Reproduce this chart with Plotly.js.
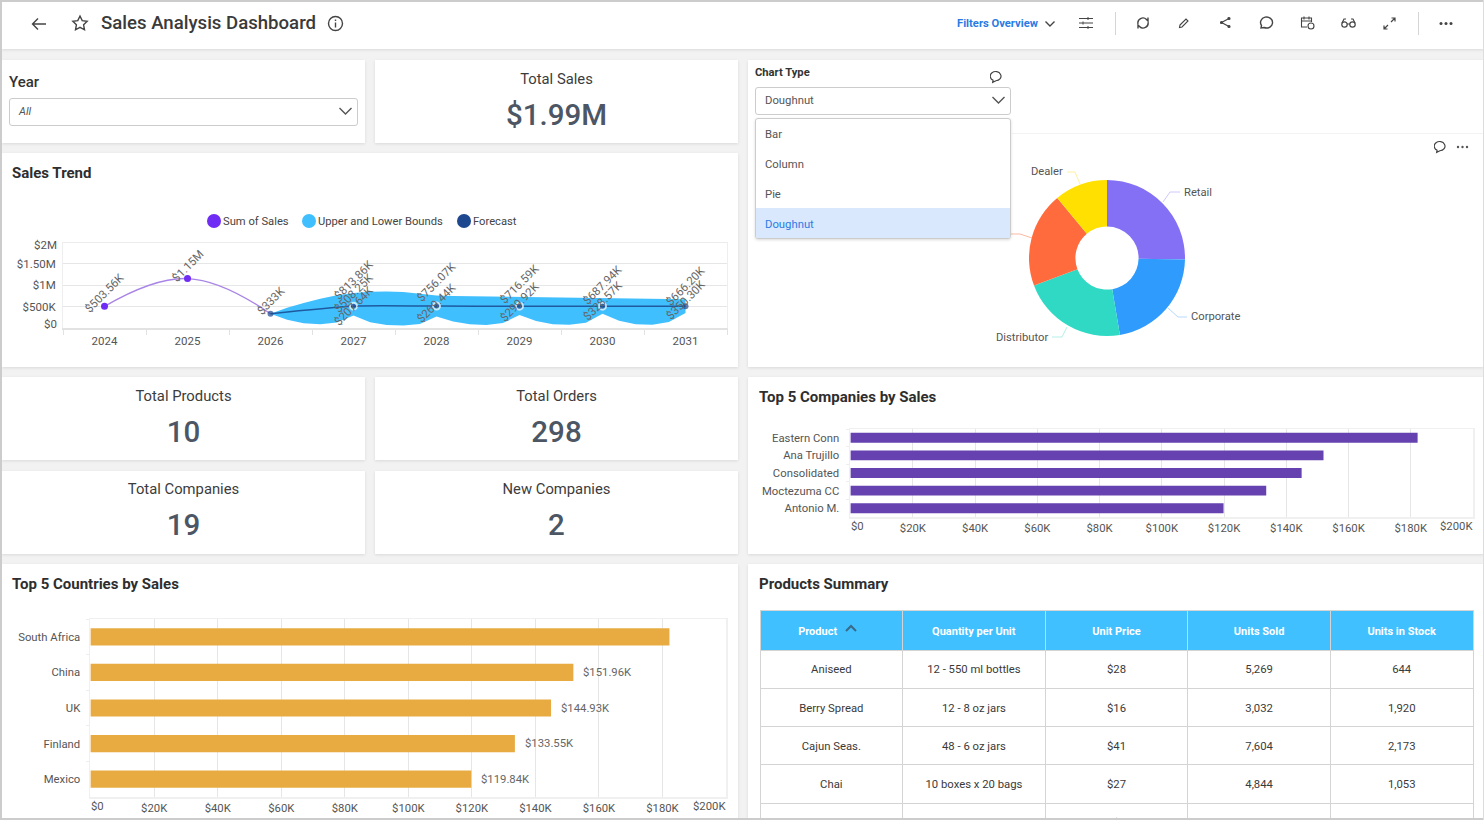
<!DOCTYPE html>
<html><head><meta charset="utf-8">
<script src="https://cdn.plot.ly/plotly-3.0.1.min.js"></script>
<style>
html,body{margin:0;padding:0;width:1484px;height:820px;overflow:hidden;background:#f2f2f2;font-family:Roboto,sans-serif;color:#333}
.p{position:absolute;background:#fff;box-shadow:0 1px 3px rgba(0,0,0,.10)}
.t{position:absolute;white-space:nowrap;line-height:1}
.ttl{font-size:15px;font-weight:700;color:#2e2e2e}
.kt{position:absolute;left:0;right:0;text-align:center;font-size:14.800px;color:#3c3c3c;top:10px}
.kv{position:absolute;left:0;right:0;text-align:center;font-weight:500;color:#4c5664;font-size:29.500px;top:38px}
.ic{position:absolute;fill:none;stroke:#444;stroke-width:1.4}
.chart{position:absolute}
.dd{position:absolute;border:1px solid #ccc;border-radius:3px;background:#fff;box-sizing:border-box}
.it{position:absolute;left:9px;font-size:11.300px;color:#555}
.lg{position:absolute;top:214px;width:14px;height:14px;border-radius:50%}
</style></head><body>
<div style="position:absolute;left:0;top:0;width:1484px;height:2px;background:#ccc;z-index:9"></div>
<div style="position:absolute;left:0;top:0;width:2px;height:820px;background:#ccc;z-index:9"></div>
<div style="position:absolute;left:0;top:818px;width:1484px;height:2px;background:#ccc;z-index:9"></div>
<div style="position:absolute;left:1483px;top:0;width:1px;height:820px;background:#ddd;z-index:9"></div>

<div class="p" style="left:2px;top:2px;width:1482px;height:47px"></div>
<svg class="ic" style="left:30px;top:15px" width="18" height="18" viewBox="0 0 18 18"><path d="M16 9H3M8 3.5 2.5 9 8 14.5"/></svg>
<svg class="ic" style="left:71px;top:14px" width="18" height="18" viewBox="0 0 18 18"><path d="M9 2l2.2 4.6 5 .7-3.6 3.5.9 5L9 13.4 4.500 15.800l.9-5L1.800 7.300l5-.7z"/></svg>
<div class="t" style="left:101px;top:14px;font-size:18.600px;font-weight:500;color:#3a3a3a">Sales Analysis Dashboard</div>
<svg class="ic" style="left:327px;top:15px" width="17" height="17" viewBox="0 0 17 17"><circle cx="8.500" cy="8.500" r="7"/><path d="M8.500 7.500v5M8.500 4.500v1.500"/></svg>
<div class="t" style="left:957px;top:18px;font-size:11.200px;font-weight:700;color:#2b7be4">Filters Overview</div>
<svg class="ic" style="left:1044px;top:19px" width="12" height="10" viewBox="0 0 12 10"><path d="M1.500 2.500 6 7l4.500-4.500"/></svg>
<svg class="ic" style="left:1078px;top:16px;stroke-width:1" width="16" height="14" viewBox="0 0 16 14"><path d="M1 2.500h14M1 7h14M1 11.500h14M10 1v3M5 5.500v3M10 10v3"/></svg>
<div style="position:absolute;left:1115px;top:12px;width:1px;height:23px;background:#d5d5d5"></div>
<svg class="ic" style="left:1136px;top:16px" width="14" height="14" viewBox="0 0 14 14"><path d="M2 8a5 5 0 0 1 8.500-4.500L12 5V1.500M12 6a5 5 0 0 1-8.500 4.500L2 9v3.500"/></svg>
<svg class="ic" style="left:1178px;top:17px;stroke-width:1.100" width="12" height="12" viewBox="0 0 12 12"><path d="M2 8 8 2l2 2-6 6-2.500.5z"/></svg>
<svg class="ic" style="left:1219px;top:16px;stroke-width:1.200" width="12" height="13" viewBox="0 0 12 13"><path d="M10 2.500 2.500 6.500 10 10.500"/><circle cx="10" cy="2.500" r="1" fill="#444"/><circle cx="2.500" cy="6.500" r="1" fill="#444"/><circle cx="10" cy="10.500" r="1" fill="#444"/></svg>
<svg class="ic" style="left:1258px;top:15px" width="16" height="16" viewBox="0 0 16 16"><path d="M3 13l.5-2.500A6 5.500 0 1 1 6 12.500z"/></svg>
<svg class="ic" style="left:1300px;top:15px;stroke-width:1.100" width="15" height="15" viewBox="0 0 15 15"><path d="M7 12H1.500V3h10v4M1.500 6h10M4 1.500v3M9 1.500v3"/><circle cx="11" cy="11" r="3"/></svg>
<svg class="ic" style="left:1341px;top:17px;stroke-width:1.200" width="15" height="12" viewBox="0 0 15 12"><circle cx="3.500" cy="7.500" r="2.700"/><circle cx="11.500" cy="7.500" r="2.700"/><path d="M6 7h3M1 6l2-4h2M14 6l-2-4h-2"/></svg>
<svg class="ic" style="left:1383px;top:17px;stroke-width:1.200" width="13" height="13" viewBox="0 0 13 13"><path d="M8 5l4-4M8.500 1H12v3.500M5 8l-4 4M1 8.500V12h3.500"/></svg>
<div style="position:absolute;left:1418px;top:12px;width:1px;height:23px;background:#d5d5d5"></div>
<svg style="position:absolute;left:1439px;top:21px" width="14" height="5"><circle cx="2" cy="2.500" r="1.500" fill="#444"/><circle cx="7" cy="2.500" r="1.500" fill="#444"/><circle cx="12" cy="2.500" r="1.500" fill="#444"/></svg>

<div class="p" style="left:2px;top:60px;width:363px;height:83px"></div>
<div class="t" style="left:9px;top:75px;font-size:15px;font-weight:500;color:#333">Year</div>
<div class="dd" style="left:9px;top:98px;width:349px;height:28px"></div>
<div class="t" style="left:19px;top:106px;font-size:11px;font-style:italic;color:#555">All</div>
<svg class="ic" style="left:338px;top:106px;stroke:#555" width="15" height="10" viewBox="0 0 15 10"><path d="M1.500 2 7.500 8l6-6"/></svg>

<div class="p" style="left:375px;top:60px;width:363px;height:83px"><div class="kt">Total Sales</div><div class="kv" style="top:38px">$1.99M</div></div>

<div class="p" style="left:2px;top:153px;width:736px;height:214px"></div>
<div class="t ttl" style="left:12px;top:166px">Sales Trend</div>
<div class="lg" style="left:207px;background:#6f2cf5"></div><div class="t" style="left:223px;top:216px;font-size:11.200px;color:#444">Sum of Sales</div>
<div class="lg" style="left:302px;background:#40bfff"></div><div class="t" style="left:318px;top:216px;font-size:11.200px;color:#444">Upper and Lower Bounds</div>
<div class="lg" style="left:457px;background:#1d478f"></div><div class="t" style="left:473px;top:216px;font-size:11.200px;color:#444">Forecast</div>
<div class="chart" id="trend" style="left:2px;top:230px;width:736px;height:130px"></div>

<div class="p" style="left:748px;top:60px;width:736px;height:307px"></div>
<div style="position:absolute;left:1012px;top:133px;width:472px;height:1px;background:#f2f2f2"></div>
<div class="chart" id="pie" style="left:748px;top:134px;width:736px;height:233px"></div>
<svg class="ic" style="left:990px;top:70px;stroke-width:1.100" width="15" height="14" viewBox="0 0 14 13"><path d="M2.500 11.500l.4-2A5 4.300 0 1 1 5.500 10z"/></svg>
<svg class="ic" style="left:1434px;top:140px;stroke-width:1.100" width="15" height="14" viewBox="0 0 14 13"><path d="M2.500 11.500l.4-2A5 4.300 0 1 1 5.500 10z"/></svg>
<svg style="position:absolute;left:1456px;top:145px" width="13" height="4"><circle cx="2" cy="2" r="1.200" fill="#555"/><circle cx="6.500" cy="2" r="1.200" fill="#555"/><circle cx="11" cy="2" r="1.200" fill="#555"/></svg>
<div class="t" style="left:755px;top:67px;font-size:11.200px;font-weight:700;color:#333">Chart Type</div>
<div class="dd" style="left:755px;top:87px;width:256px;height:28px"></div>
<div class="t" style="left:765px;top:95px;font-size:11.300px;color:#555">Doughnut</div>
<svg class="ic" style="left:991px;top:95px;stroke:#555" width="15" height="10" viewBox="0 0 15 10"><path d="M1.500 2 7.500 8l6-6"/></svg>
<div class="dd" style="left:755px;top:118px;width:256px;height:121px;z-index:3;box-shadow:0 1px 3px rgba(0,0,0,.15);overflow:hidden">
  <div class="t it" style="top:10px">Bar</div>
  <div class="t it" style="top:40px">Column</div>
  <div class="t it" style="top:70px">Pie</div>
  <div style="position:absolute;left:0;right:0;top:89px;height:30px;background:#d9e8fd"></div>
  <div class="t it" style="top:100px;color:#2b7be4">Doughnut</div>
</div>

<div class="p" style="left:2px;top:377px;width:363px;height:83px"><div class="kt">Total Products</div><div class="kv">10</div></div>
<div class="p" style="left:375px;top:377px;width:363px;height:83px"><div class="kt">Total Orders</div><div class="kv">298</div></div>
<div class="p" style="left:2px;top:471px;width:363px;height:83px"><div class="kt" style="top:9px">Total Companies</div><div class="kv" style="top:37px">19</div></div>
<div class="p" style="left:375px;top:471px;width:363px;height:83px"><div class="kt" style="top:9px">New Companies</div><div class="kv" style="top:37px">2</div></div>

<div class="p" style="left:748px;top:377px;width:736px;height:177px"></div>
<div class="t ttl" style="left:759px;top:390px">Top 5 Companies by Sales</div>
<div class="chart" id="companies" style="left:748px;top:420px;width:736px;height:130px"></div>

<div class="p" style="left:2px;top:564px;width:736px;height:256px"></div>
<div class="t ttl" style="left:12px;top:577px">Top 5 Countries by Sales</div>
<div class="chart" id="countries" style="left:2px;top:610px;width:736px;height:210px"></div>

<div class="p" style="left:748px;top:564px;width:736px;height:256px"></div>
<div class="t ttl" style="left:759px;top:577px">Products Summary</div>
<div class="chart" id="table" style="left:748px;top:600px;width:736px;height:260px"></div>
<svg class="ic" style="left:844px;top:623px;stroke:#3a6a88;stroke-width:2;z-index:4" width="14" height="10" viewBox="0 0 14 10"><path d="M2 8 7 3l5 5"/></svg>

<script>
// ---- data ----
const salesYears = [2024, 2025, 2026];
const salesValues = [503.56, 1150, 333];
const forecastYears = [2026, 2027, 2028, 2029, 2030, 2031];
const forecastValues = [333, 508.25, 509, 508, 508, 508];
const boundYears = [2027, 2028, 2029, 2030, 2031];
const upperLabels = [813.86, 756.07, 716.59, 687.94, 666.20];
const lowerLabels = [207.64, 269.44, 299.92, 328.57, 350.30];
const bandX = [2026,2026.2,2026.4,2026.6,2026.8,2027,2027.2,2027.4,2027.6,2027.8,2028,2028.2,2028.4,2028.6,2028.8,2029,2029.2,2029.4,2029.6,2029.8,2030,2030.2,2030.4,2030.6,2030.8,2031];
const bandUpper = [333,470,580,680,760,814,845,850,835,800,756,745,740,735,725,717,712,708,703,695,688,685,680,675,670,666];
const bandLower = [333,190,110,85,130,290,135,70,60,95,269,150,85,70,115,300,165,90,75,125,329,170,90,75,140,350];
const trendXTicks = [2024,2025,2026,2027,2028,2029,2030,2031];
const trendYTicks = [500,1000,1500];
const trendYLabels = ['$500K','$1M','$1.50M'];

const pieLabels = ['Retail','Corporate','Distributor','Reseller','Dealer'];
const pieValues = [25.3,22,21.9,19.7,11];
const pieColors = ['#8470f5','#2e9bfd','#2fd9c4','#ff6b3d','#ffe000'];

const companyNames = ['Eastern Conn','Ana Trujillo','Consolidated','Moctezuma CC','Antonio M.'];
const companySales = [182.2,151.96,144.93,133.55,119.84];
const countryNames = ['South Africa','China','UK','Finland','Mexico'];
const countrySales = [182.2,151.96,144.93,133.55,119.84];
const countryLabels = ['','$151.96K','$144.93K','$133.55K','$119.84K'];
const salesAxisTicks = [0,20,40,60,80,100,120,140,160,180,200];

const tableHeader = ['Product','Quantity per Unit','Unit Price','Units Sold','Units in Stock'];
const colProduct = ['Aniseed','Berry Spread','Cajun Seas.','Chai',''];
const colQuantity = ['12 - 550 ml bottles','12 - 8 oz jars','48 - 6 oz jars','10 boxes x 20 bags',''];
const colPrice = ['$28','$16','$41','$27','$'];
const colSold = ['5,269','3,032','7,604','4,844',''];
const colStock = ['644','1,920','2,173','1,053',''];

// ---- drawing ----
const cfg = {staticPlot:true, displayModeBar:false};
const FONT = 'Roboto, sans-serif';
const kFmt = v => v >= 1000 ? '$' + (v/1000).toFixed(2) + 'M' : '$' + (Number.isInteger(v) ? v : v.toFixed(2)) + 'K';

function rotLabel(x, y, text){
  return {x, y, text, xref:'x', yref:'y', showarrow:false, textangle:-45, xanchor:'center', yanchor:'middle',
    yshift:13, font:{family:FONT,size:11.500,color:'#666'}};
}
const trendLabels = [];
salesYears.forEach((y,i)=>trendLabels.push(rotLabel(y,salesValues[i],kFmt(salesValues[i]))));
boundYears.forEach((y,i)=>{
  trendLabels.push(rotLabel(y,upperLabels[i],kFmt(upperLabels[i])));
  trendLabels.push(rotLabel(y,lowerLabels[i],kFmt(lowerLabels[i])));
});
trendLabels.push(rotLabel(2027,forecastValues[1],kFmt(forecastValues[1])));
const axisNote = (y,shift,text)=>({xref:'paper',x:0,yref:'y',y,yshift:shift,xshift:-4,text,showarrow:false,xanchor:'right',yanchor:'middle',font:{family:FONT,size:11.500,color:'#555'}});
trendLabels.push(axisNote(0,4,'$0'));
trendLabels.push(axisNote(2000,-2.5,'$2M'));

Plotly.newPlot('trend',[
  {x:bandX.concat(bandX.slice().reverse()), y:bandUpper.concat(bandLower.slice().reverse()), type:'scatter', mode:'lines',
   fill:'toself', fillcolor:'#40bfff', line:{width:0,color:'#40bfff'}, name:'Upper and Lower Bounds'},
  {x:salesYears, y:salesValues, type:'scatter', mode:'lines', line:{color:'#a885e6',width:1.3,shape:'spline',smoothing:1.2}, name:'Sum of Sales'},
  {x:salesYears.slice(0,2), y:salesValues.slice(0,2), type:'scatter', mode:'markers', marker:{color:'#6f2cf5',size:7}, name:'Sum of Sales points'},
  {x:forecastYears, y:forecastValues, type:'scatter', mode:'lines', line:{color:'#1d5aa0',width:1.5,shape:'spline',smoothing:0.8}, name:'Forecast'},
  {x:forecastYears, y:forecastValues, type:'scatter', mode:'markers',
   marker:{color:'#1d478f',size:[6,7,7,7,7,6],line:{color:['#1d478f','#fff','#fff','#fff','#fff','#1d478f'],width:[0,2,2,2,2,0]}}, name:'Forecast points'}
],{
  width:736,height:130,margin:{l:60.5,r:11,t:12,b:32},showlegend:false,paper_bgcolor:'rgba(0,0,0,0)',plot_bgcolor:'rgba(0,0,0,0)',
  font:{family:FONT,size:11.500,color:'#555'},
  xaxis:{range:[2023.5,2031.5],tickmode:'array',tickvals:trendXTicks,ticktext:trendXTicks.map(String),showgrid:false,zeroline:false,
    showline:true,linecolor:'#e2e2e2',linewidth:1.5,ticks:'',ticklabelstandoff:2,
    minor:{tickmode:'array',tickvals:[2023.5,2024.5,2025.5,2026.5,2027.5,2028.5,2029.5,2030.5,2031.5],ticks:'outside',ticklen:5,tickcolor:'#e2e2e2',showgrid:false}},
  yaxis:{range:[0,2000],tickmode:'array',tickvals:trendYTicks,ticktext:trendYLabels,gridcolor:'#e6e6e6',zeroline:false,ticks:'',ticklabelstandoff:4,
    showline:true,linecolor:'#eeeeee',mirror:true},
  shapes:[{type:'line',xref:'paper',x0:0,x1:1,yref:'y',y0:2000,y1:2000,line:{color:'#e6e6e6',width:1.5}}],
  annotations:trendLabels
},cfg);

// doughnut
const W=736,H=233,OX=748,OY=134,CX=1107,CY=258,R=78;
const px=x=>(x-OX)/W, py=y=>1-(y-OY)/H;
const lead=(pts,c)=>({type:'path',xref:'paper',yref:'paper',line:{color:c,width:1},
  path:pts.map((p,i)=>(i?'L':'M')+px(p[0])+' '+py(p[1])).join(' ')});
const callout=(x,y,text,anchor)=>({xref:'paper',yref:'paper',x:px(x),y:py(y),text,showarrow:false,xanchor:anchor,yanchor:'middle',font:{family:FONT,size:11.200,color:'#555'}});
Plotly.newPlot('pie',[{type:'pie',labels:pieLabels,values:pieValues,sort:false,direction:'clockwise',rotation:0,hole:0.405,textinfo:'none',
  marker:{colors:pieColors,line:{width:0}},domain:{x:[px(CX-R),px(CX+R)],y:[py(CY+R),py(CY-R)]}}],{
  width:W,height:H,margin:{l:0,r:0,t:0,b:0},showlegend:false,paper_bgcolor:'rgba(0,0,0,0)',
  shapes:[lead([[1067,172],[1075,172],[1080,184]],'#fff0a0'),lead([[1180,192],[1170,192],[1163,202]],'#cfc8fb'),
    lead([[1187,317],[1178,317],[1168,308]],'#b5dafd'),lead([[1052,337],[1062,337],[1067,327]],'#b5efe8'),lead([[1010,234],[1020,234],[1032,238]],'#ffb9a3')],
  annotations:[callout(1065,171,'Dealer','right'),callout(1182,192,'Retail','left'),callout(1189,316,'Corporate','left'),callout(1050,337,'Distributor','right')]
},cfg);

function barChart(id,names,vals,color,w,h,m,gap,yOff,labels){
  const notes=[{v:0,t:'$0',a:'left',s:-2},{v:200,t:'$200K',a:'right',s:2}].map(e=>({xref:'x',x:e.v,yref:'paper',y:0,yanchor:'middle',yshift:-9.5,xanchor:e.a,xshift:e.s,
    text:e.t,showarrow:false,font:{family:FONT,size:11.300,color:'#555'}}));
  if(labels) labels.forEach((t,i)=>{ if(t) notes.push({xref:'x',yref:'y',x:vals[i],y:names[i],xanchor:'left',yanchor:'middle',xshift:8,text:t,showarrow:false,font:{family:FONT,size:11.300,color:'#666'}}); });
  Plotly.newPlot(id,[{type:'bar',orientation:'h',y:names,x:vals,marker:{color,line:{width:0}},cliponaxis:false}],{
    width:w,height:h,margin:m,bargap:gap,showlegend:false,paper_bgcolor:'rgba(0,0,0,0)',plot_bgcolor:'rgba(0,0,0,0)',
    font:{family:FONT,size:11.300,color:'#555'},
    xaxis:{range:[-0.2,200],tickmode:'array',tickvals:salesAxisTicks,ticktext:salesAxisTicks.map(v=>(v===0||v===200)?'':'$'+v+'K'),gridcolor:'#e6e6e6',zeroline:false,ticks:'',showline:true,linecolor:'#f0f0f0',linewidth:1.5,mirror:true},
    yaxis:{type:'category',autorange:'reversed',tickson:'boundaries',ticks:'outside',ticklen:3,tickcolor:'#eeeeee',showline:true,linecolor:'#f0f0f0',linewidth:1.5,mirror:true,ticklabelstandoff:yOff,showgrid:false},
    annotations:notes
  },cfg);
}
barChart('companies',companyNames,companySales,'#6542b0',736,130,{l:102,r:10.5,t:8.5,b:32.8},0.436,7);
barChart('countries',countryNames,countrySales,'#e8ab42',736,210,{l:88,r:11.5,t:9,b:22.5},0.517,6,countryLabels);

Plotly.newPlot('table',[{type:'table',columnwidth:[142.6,142.6,142.6,142.6,142.6],
  header:{values:tableHeader.map((h,i)=>i===0?h+'\u00a0\u00a0\u00a0\u00a0\u00a0\u00a0\u00a0\u00a0\u00a0\u00a0':h).map(h=>'<b>'+h+'</b>'),height:40,fill:{color:'#40c0ff'},line:{color:'#d4d4d4',width:1},font:{family:FONT,size:11,color:'#fff'},align:'center'},
  cells:{values:[colProduct,colQuantity,colPrice,colSold,colStock],height:38.3,fill:{color:'#fff'},line:{color:'#d4d4d4',width:1},font:{family:FONT,size:11.300,color:'#3a3a3a'},align:'center'},
  domain:{x:[12/736,725/736],y:[0,1]}}],{
  width:736,height:260,margin:{l:0,r:0,t:10,b:0},paper_bgcolor:'rgba(0,0,0,0)',font:{family:FONT}
},cfg).then(()=>{
  document.querySelectorAll('#table .cell-text').forEach(el=>{el.style.transform='translateY(7px)';});
});
</script>
</body></html>
